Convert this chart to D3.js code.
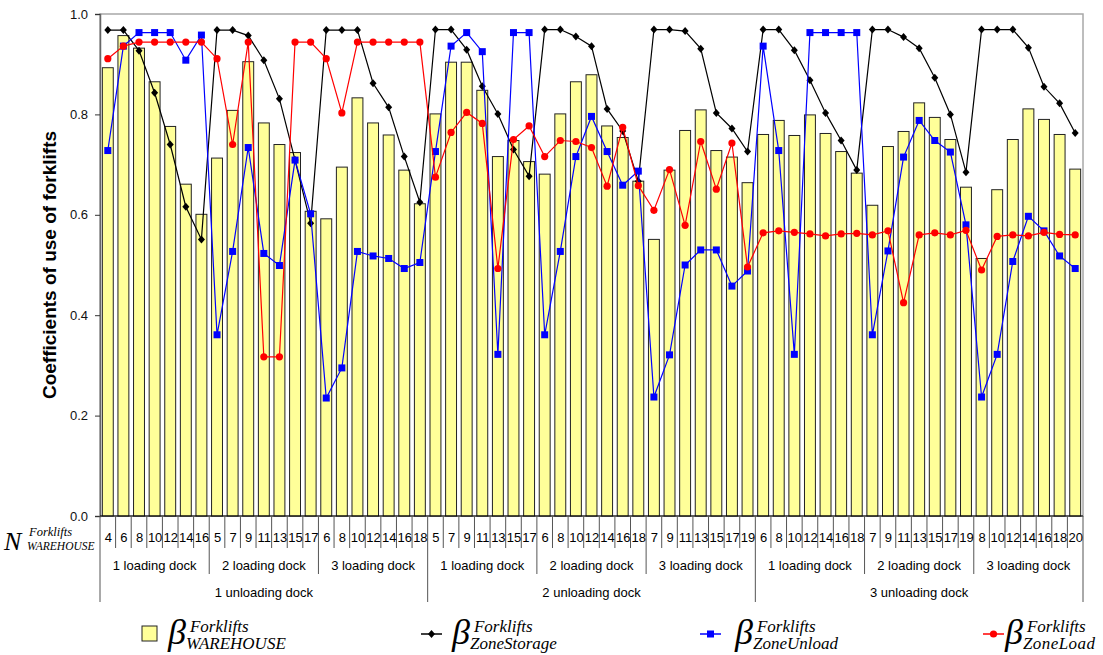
<!DOCTYPE html>
<html>
<head>
<meta charset="utf-8">
<script src="https://cdn.jsdelivr.net/npm/d3@7"></script>
<style>
body { margin: 0; background: #fff; }
svg { display: block; font-family: "Liberation Sans", Arial, sans-serif; }
</style>
</head>
<body>
<div id="chart-area"></div>
<script>
// groups on the x axis
const unloadingDocks = ["1 unloading dock", "2 unloading dock", "3 unloading dock"]
const loadingDocks = ["1 loading dock", "2 loading dock", "3 loading dock"]

// number of forklifts in the warehouse, 7 per loading dock group
const nWarehouse = [
	4, 6, 8, 10, 12, 14, 16,   5, 7, 9, 11, 13, 15, 17,   6, 8, 10, 12, 14, 16, 18,
	5, 7, 9, 11, 13, 15, 17,   6, 8, 10, 12, 14, 16, 18,   7, 9, 11, 13, 15, 17, 19,
	6, 8, 10, 12, 14, 16, 18,   7, 9, 11, 13, 15, 17, 19,   8, 10, 12, 14, 16, 18, 20
]

const betaWarehouse = [
	0.893, 0.957, 0.932, 0.865, 0.776, 0.661, 0.601,
	0.713, 0.808, 0.905, 0.783, 0.740, 0.724, 0.607,
	0.592, 0.695, 0.833, 0.783, 0.759, 0.689, 0.622,
	0.801, 0.904, 0.904, 0.848, 0.716, 0.748, 0.706,
	0.681, 0.801, 0.865, 0.879, 0.777, 0.754, 0.667,
	0.551, 0.689, 0.768, 0.809, 0.728, 0.715, 0.664,
	0.760, 0.788, 0.758, 0.799, 0.762, 0.726, 0.683,
	0.619, 0.736, 0.766, 0.823, 0.794, 0.750, 0.655,
	0.513, 0.650, 0.750, 0.811, 0.790, 0.760, 0.691
]

const betaStorage = [
	0.968, 0.968, 0.927, 0.843, 0.740, 0.616, 0.551,
	0.968, 0.968, 0.957, 0.908, 0.831, 0.709, 0.583,
	0.968, 0.968, 0.968, 0.862, 0.814, 0.716, 0.625,
	0.969, 0.969, 0.929, 0.856, 0.801, 0.730, 0.677,
	0.969, 0.969, 0.955, 0.936, 0.811, 0.767, 0.667,
	0.969, 0.969, 0.966, 0.931, 0.803, 0.772, 0.726,
	0.969, 0.969, 0.928, 0.868, 0.803, 0.748, 0.689,
	0.969, 0.969, 0.954, 0.932, 0.873, 0.800, 0.685,
	0.969, 0.969, 0.969, 0.933, 0.855, 0.822, 0.763
]

const betaUnload = [
	0.728, 0.936, 0.963, 0.963, 0.963, 0.908, 0.958,
	0.361, 0.527, 0.734, 0.523, 0.499, 0.709, 0.602,
	0.235, 0.295, 0.527, 0.518, 0.513, 0.493, 0.505,
	0.726, 0.936, 0.963, 0.925, 0.322, 0.963, 0.963,
	0.361, 0.527, 0.716, 0.796, 0.726, 0.659, 0.687,
	0.237, 0.321, 0.500, 0.530, 0.530, 0.458, 0.488,
	0.936, 0.728, 0.322, 0.963, 0.963, 0.963, 0.963,
	0.361, 0.528, 0.715, 0.788, 0.748, 0.725, 0.580,
	0.237, 0.322, 0.507, 0.597, 0.568, 0.518, 0.493
]

const betaLoad = [
	0.911, 0.936, 0.944, 0.944, 0.944, 0.944, 0.944,
	0.911, 0.740, 0.944, 0.317, 0.317, 0.944, 0.944,
	0.911, 0.803, 0.944, 0.944, 0.944, 0.944, 0.944,
	0.675, 0.764, 0.804, 0.782, 0.493, 0.750, 0.777,
	0.716, 0.748, 0.746, 0.734, 0.657, 0.774, 0.658,
	0.609, 0.690, 0.579, 0.746, 0.651, 0.743, 0.496,
	0.564, 0.568, 0.565, 0.562, 0.558, 0.562, 0.563,
	0.560, 0.568, 0.425, 0.560, 0.564, 0.560, 0.569,
	0.490, 0.557, 0.560, 0.558, 0.565, 0.561, 0.560
]

const yTicks = [0, 0.2, 0.4, 0.6, 0.8, 1.0]

const MARGIN = { LEFT: 100, RIGHT: 20, TOP: 14, BOTTOM: 139 }
const WIDTH = 1103 - MARGIN.LEFT - MARGIN.RIGHT
const HEIGHT = 655 - MARGIN.TOP - MARGIN.BOTTOM
const PER_GROUP = 7

const svg = d3.select("#chart-area").append("svg")
	.attr("width", 1103)
	.attr("height", 655)

const g = svg.append("g")
	.attr("transform", `translate(${MARGIN.LEFT}, ${MARGIN.TOP})`)

const x = d3.scaleBand()
	.domain(d3.range(nWarehouse.length))
	.range([0, WIDTH])
const step = x.step()
const cx = i => x(i) + step / 2

const y = d3.scaleLinear()
	.domain([0, 1])
	.range([HEIGHT, 0])

// plot border (top / right are light grey)
g.append("rect")
	.attr("width", WIDTH)
	.attr("height", HEIGHT)
	.attr("fill", "none")
	.attr("stroke", "#a8a8a8")
	.attr("stroke-width", 1.5)

// bars
g.selectAll("rect.bar")
	.data(betaWarehouse)
	.enter().append("rect")
	.attr("class", "bar")
	.attr("x", (d, i) => x(i) + step * 0.15)
	.attr("width", step * 0.7)
	.attr("y", d => y(d))
	.attr("height", d => HEIGHT - y(d))
	.attr("fill", "#ffff99")
	.attr("stroke", "#222")
	.attr("stroke-width", 1)

const line = d3.line()
	.x((d, i) => cx(i))
	.y(d => y(d))

const diamond = "M0,-4L3.5,0L0,4L-3.5,0Z"

// storage (black diamonds)
g.append("path")
	.datum(betaStorage)
	.attr("d", line)
	.attr("fill", "none")
	.attr("stroke", "#000")
	.attr("stroke-width", 1.2)
g.selectAll("path.storage")
	.data(betaStorage)
	.enter().append("path")
	.attr("class", "storage")
	.attr("d", diamond)
	.attr("transform", (d, i) => `translate(${cx(i)}, ${y(d)})`)
	.attr("fill", "#000")

// unload (blue squares)
g.append("path")
	.datum(betaUnload)
	.attr("d", line)
	.attr("fill", "none")
	.attr("stroke", "#0000ff")
	.attr("stroke-width", 1.2)
g.selectAll("rect.unload")
	.data(betaUnload)
	.enter().append("rect")
	.attr("class", "unload")
	.attr("x", (d, i) => cx(i) - 3.5)
	.attr("y", d => y(d) - 3.5)
	.attr("width", 7)
	.attr("height", 7)
	.attr("fill", "#0000ff")

// load (red circles)
g.append("path")
	.datum(betaLoad)
	.attr("d", line)
	.attr("fill", "none")
	.attr("stroke", "#ff0000")
	.attr("stroke-width", 1.2)
g.selectAll("circle.load")
	.data(betaLoad)
	.enter().append("circle")
	.attr("class", "load")
	.attr("cx", (d, i) => cx(i))
	.attr("cy", d => y(d))
	.attr("r", 3.6)
	.attr("fill", "#ff0000")

// Y axis
const yAxisGroup = g.append("g")
	.attr("class", "y axis")
	.call(d3.axisLeft(y)
		.tickValues(yTicks)
		.tickFormat(d3.format(".1f"))
		.tickSize(5)
		.tickPadding(7))
yAxisGroup.select(".domain").attr("stroke", "#666").attr("stroke-width", 1.5)
yAxisGroup.selectAll(".tick line").attr("stroke", "#333")
yAxisGroup.selectAll("text")
	.attr("font-size", "13px")
	.attr("font-family", "'Liberation Sans', Arial, sans-serif")
	.attr("fill", "#111")

// Y label
g.append("text")
	.attr("x", -(HEIGHT / 2))
	.attr("y", -44)
	.attr("font-size", "19px")
	.attr("font-weight", "bold")
	.attr("text-anchor", "middle")
	.attr("transform", "rotate(-90)")
	.text("Coefficients of use of forklifts")

// X axis: base line, separators and the three label rows
g.append("line")
	.attr("x1", 0).attr("x2", WIDTH)
	.attr("y1", HEIGHT).attr("y2", HEIGHT)
	.attr("stroke", "#000")

const bounds = d3.range(nWarehouse.length + 1)
g.selectAll("line.sep")
	.data(bounds)
	.enter().append("line")
	.attr("class", "sep")
	.attr("x1", i => i * step).attr("x2", i => i * step)
	.attr("y1", HEIGHT)
	.attr("y2", i => i % (PER_GROUP * 3) === 0 ? HEIGHT + 86 : (i % PER_GROUP === 0 ? HEIGHT + 58 : HEIGHT + 32))
	.attr("stroke", "#555")
	.attr("stroke-width", 1)

g.selectAll("text.count")
	.data(nWarehouse)
	.enter().append("text")
	.attr("class", "count")
	.attr("x", (d, i) => cx(i) + 0.5)
	.attr("y", HEIGHT + 26)
	.attr("font-size", "13px")
	.attr("text-anchor", "middle")
	.text(d => d)

const loadingLabels = d3.range(unloadingDocks.length * loadingDocks.length)
	.map(k => loadingDocks[k % loadingDocks.length])
g.selectAll("text.loading")
	.data(loadingLabels)
	.enter().append("text")
	.attr("class", "loading")
	.attr("x", (d, k) => (k + 0.5) * PER_GROUP * step)
	.attr("y", HEIGHT + 54)
	.attr("font-size", "13px")
	.attr("text-anchor", "middle")
	.text(d => d)

g.selectAll("text.unloading")
	.data(unloadingDocks)
	.enter().append("text")
	.attr("class", "unloading")
	.attr("x", (d, k) => (k + 0.5) * PER_GROUP * 3 * step)
	.attr("y", HEIGHT + 81)
	.attr("font-size", "13px")
	.attr("text-anchor", "middle")
	.text(d => d)

// N label on the left of the counts row
const serif = "'Liberation Serif', 'Times New Roman', serif"
svg.append("text")
	.attr("x", 4).attr("y", 550)
	.attr("font-family", serif).attr("font-style", "italic")
	.attr("font-size", "26px")
	.text("N")
svg.append("text")
	.attr("x", 29).attr("y", 536)
	.attr("font-family", serif).attr("font-style", "italic")
	.attr("font-size", "12.5px")
	.text("Forklifts")
svg.append("text")
	.attr("x", 27).attr("y", 550)
	.attr("font-family", serif).attr("font-style", "italic")
	.attr("font-size", "11.5px")
	.text("WAREHOUSE")

// Legend
const legendY = 634
const legendSubs = ["WAREHOUSE", "ZoneStorage", "ZoneUnload", "ZoneLoad"]
const legendX = [142, 421, 700, 983]
const betaX = [168, 452, 735, 1005]

const legend = svg.append("g")

legend.append("rect")
	.attr("x", legendX[0]).attr("y", legendY - 8)
	.attr("width", 15).attr("height", 15)
	.attr("fill", "#ffff99")
	.attr("stroke", "#222")

const markerColors = ["#000", "#0000ff", "#ff0000"]
markerColors.forEach((c, k) => {
	const lx = legendX[k + 1]
	legend.append("line")
		.attr("x1", lx).attr("x2", lx + 21)
		.attr("y1", legendY).attr("y2", legendY)
		.attr("stroke", c).attr("stroke-width", 1.5)
	if (k === 0) {
		legend.append("path").attr("d", diamond)
			.attr("transform", `translate(${lx + 10.5}, ${legendY})`).attr("fill", c)
	} else if (k === 1) {
		legend.append("rect").attr("x", lx + 7).attr("y", legendY - 3.5)
			.attr("width", 7).attr("height", 7).attr("fill", c)
	} else {
		legend.append("circle").attr("cx", lx + 10.5).attr("cy", legendY).attr("r", 3.6).attr("fill", c)
	}
})

legendSubs.forEach((s, k) => {
	const bx = betaX[k]
	const beta = legend.append("text")
		.attr("x", bx).attr("y", legendY + 10)
		.attr("font-family", serif).attr("font-style", "italic")
		.attr("font-size", "36px")
		.text("β")
	const bw = beta.node().getComputedTextLength()
	legend.append("text")
		.attr("x", bx + bw + 4).attr("y", legendY - 2)
		.attr("font-family", serif).attr("font-style", "italic")
		.attr("font-size", "17px")
		.text("Forklifts")
	legend.append("text")
		.attr("x", bx + bw).attr("y", legendY + 15)
		.attr("font-family", serif).attr("font-style", "italic")
		.attr("font-size", "17px")
		.attr("textLength", k === 3 ? 72 : null)
		.text(s)
})
</script>
</body>
</html>
